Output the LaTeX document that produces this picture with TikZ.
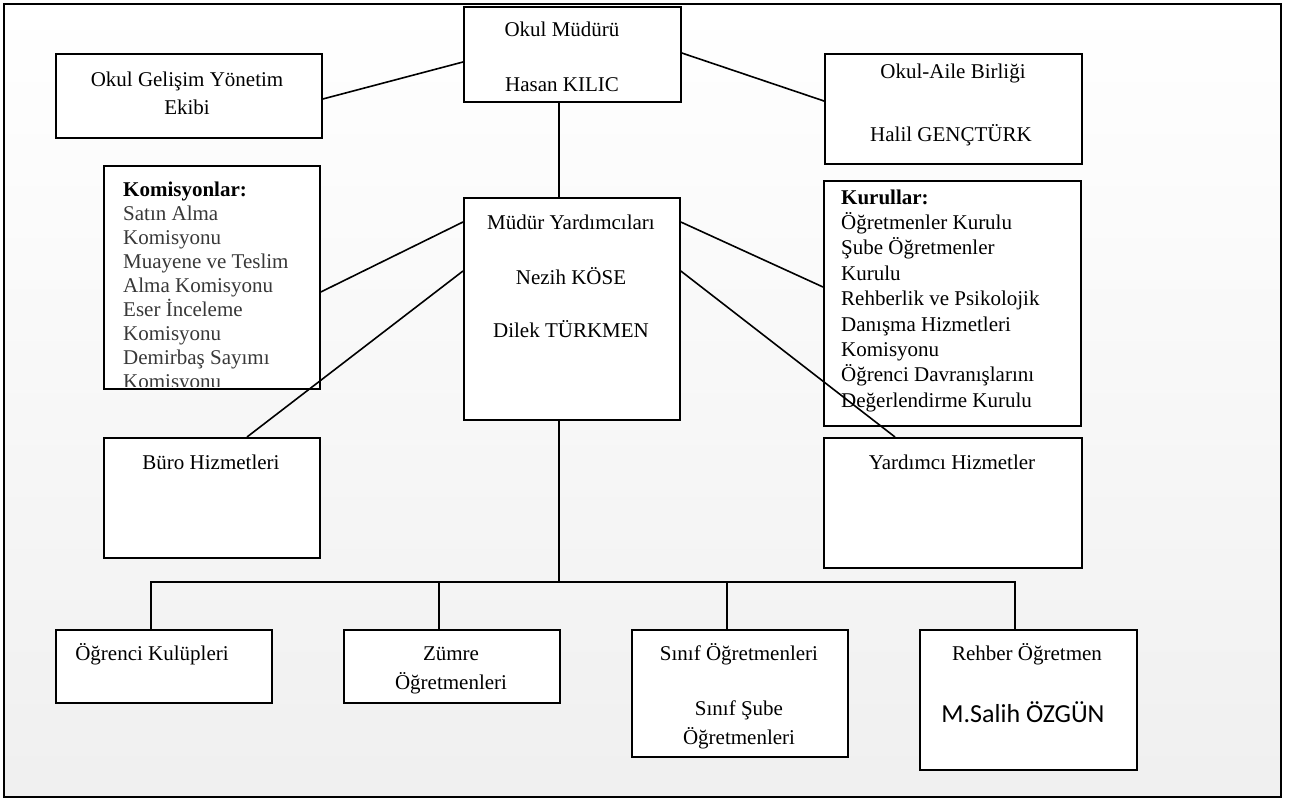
\documentclass[tikz,border=0pt]{standalone}
\usepackage{fontspec}
\setmainfont{Liberation Serif}
\newfontfamily\calibrifont{Carlito}
\usetikzlibrary{calc}
\begin{document}
\begin{tikzpicture}[x=1pt,y=-1pt,
  box/.style={draw=black, line width=1.8pt, fill=white, inner sep=0pt, anchor=north west},
  conn/.style={line width=1.6pt, draw=black},
  txt/.style={inner sep=0pt, anchor=base, font=\fontsize{21}{24}\selectfont},
  ltxt/.style={inner sep=0pt, anchor=base west, font=\fontsize{21}{24}\selectfont},
]
\useasboundingbox (0,0) rectangle (1296,800);
\fill[white] (0,0) rectangle (1296,800);
\shade[top color=white, bottom color=black!6] (4,4) rectangle (1281,797);
\draw[line width=2pt] (4,4) rectangle (1281,797);

% boxes
\node[box, minimum width=266pt, minimum height=84pt] (ogye) at (55,53) {};
\node[box, minimum width=217pt, minimum height=95pt] (om) at (463,6) {};
\node[box, minimum width=257pt, minimum height=110pt] (oab) at (824,53) {};
\node[box, minimum width=216pt, minimum height=223pt] (kom) at (103,165) {};
\node[box, minimum width=216pt, minimum height=222pt] (my) at (463,197) {};
\node[box, minimum width=257pt, minimum height=245pt] (kur) at (823,180) {};
\node[box, minimum width=216pt, minimum height=120pt] (buro) at (103,437) {};
\node[box, minimum width=258pt, minimum height=130pt] (yard) at (823,437) {};
\node[box, minimum width=216pt, minimum height=73pt] (ok) at (55,629) {};
\node[box, minimum width=216pt, minimum height=73pt] (zum) at (343,629) {};
\node[box, minimum width=216pt, minimum height=127pt] (sin) at (631,629) {};
\node[box, minimum width=217pt, minimum height=140pt] (reh) at (919,629) {};

% texts
\node[txt] (t1) at (187,87) {Okul Gelişim Yönetim};
\node[txt] (t2) at (187,114) {Ekibi};
\node[txt] (t3) at (562,37) {Okul Müdürü};
\node[txt] (t4) at (562,92) {Hasan KILIC};
\node[txt] (t5) at (953,78) {Okul-Aile Birliği};
\node[txt] (t6) at (951,141) {Halil GENÇTÜRK};
\node[txt] (t7) at (571,229) {Müdür Yardımcıları};
\node[txt] (t8) at (571,284) {Nezih KÖSE};
\node[txt] (t9) at (571,337) {Dilek TÜRKMEN};
\node[txt] (t10) at (211,469) {Büro Hizmetleri};
\node[txt] (t11) at (952,469) {Yardımcı Hizmetler};
\node[txt] (t12) at (152,660) {Öğrenci Kulüpleri};
\node[txt] (t13) at (451,660) {Zümre};
\node[txt] (t14) at (451,689) {Öğretmenleri};
\node[txt] (t15) at (739,660) {Sınıf Öğretmenleri};
\node[txt] (t16) at (739,715) {Sınıf Şube};
\node[txt] (t17) at (739,744) {Öğretmenleri};
\node[txt] (t18) at (1027,660) {Rehber Öğretmen};
\node[inner sep=0pt, anchor=base, font=\calibrifont\fontsize{26}{30}\selectfont] (t19) at (1023,722) {M.Salih ÖZGÜN};

\begin{scope}
\clip (104,166) rectangle (318,386);
\node[ltxt] (k0) at (123,196) {\textbf{Komisyonlar:}};
\foreach \s [count=\i] in {Satın Alma,Komisyonu,Muayene ve Teslim,Alma Komisyonu,Eser İnceleme,Komisyonu,Demirbaş Sayımı,Komisyonu}
  \node[ltxt, text=black!78] (k\i) at (123,196+24*\i) {\s};
\end{scope}

\node[ltxt] (r0) at (841,204) {\textbf{Kurullar:}};
\foreach \s [count=\i] in {Öğretmenler Kurulu,Şube Öğretmenler,Kurulu,Rehberlik ve Psikolojik,Danışma Hizmetleri,Komisyonu,Öğrenci Davranışlarını,Değerlendirme Kurulu}
  \node[ltxt] (r\i) at (841,204+25.4*\i) {\s};

% connectors
\draw[conn] ($(ogye.north east)+(0,46)$) -- ($(om.north west)+(0,56)$);
\draw[conn] ($(om.north east)+(0,47)$) -- ($(oab.north west)+(0,48)$);
\draw[conn] ($(om.south west)+(96,0)$) -- ($(my.north west)+(96,0)$);
\draw[conn] ($(my.north west)+(0,25)$) -- ($(kom.north east)+(0,127)$);
\draw[conn] ($(my.north west)+(0,74)$) -- ($(buro.north west)+(144,0)$);
\draw[conn] ($(my.north east)+(0,25)$) -- ($(kur.north west)+(0,107)$);
\draw[conn] ($(my.north east)+(0,74)$) -- ($(yard.north west)+(72,0)$);
\coordinate (bus) at (559,582);
\draw[conn] ($(my.south west)+(96,0)$) -- (bus);
\draw[conn] ($(ok.north west)+(96,0)$) -- ++(0,-47) -| ($(reh.north west)+(96,0)$);
\draw[conn] ($(zum.north west)+(96,0)$) -- ++(0,-47);
\draw[conn] ($(sin.north west)+(96,0)$) -- ++(0,-47);
\end{tikzpicture}
\end{document}
